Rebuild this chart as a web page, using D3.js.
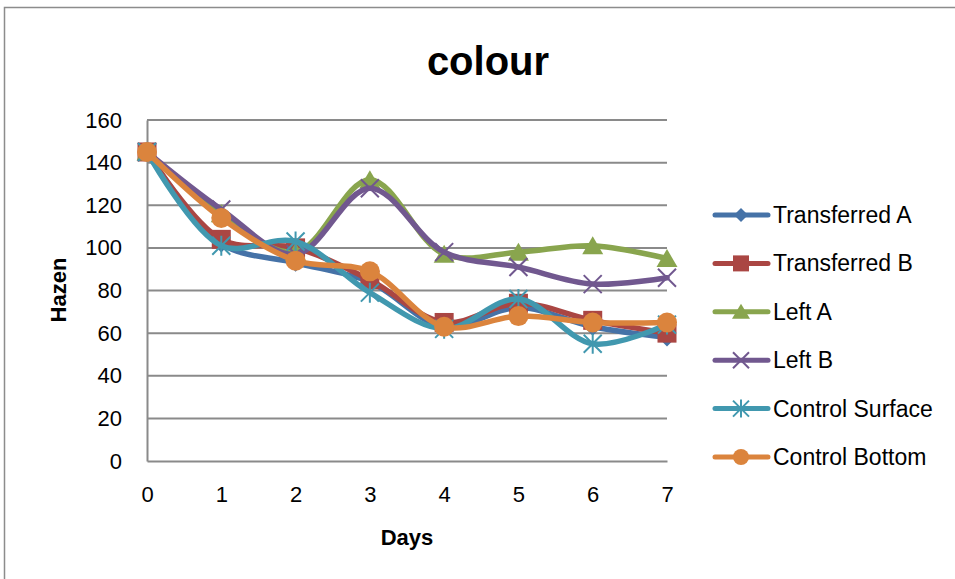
<!DOCTYPE html>
<html>
<head>
<meta charset="utf-8">
<script src="https://cdn.jsdelivr.net/npm/d3@7"></script>
<style>
  html, body { margin: 0; padding: 0; background: #fff; }
  svg { display: block; font-family: "Liberation Sans", Arial, sans-serif; }
</style>
</head>
<body>
<svg id="chart" width="955" height="579"></svg>
<script>
// Colour (Hazen) measured over seven days
const days = [0, 1, 2, 3, 4, 5, 6, 7];
const yTicks = [0, 20, 40, 60, 80, 100, 120, 140, 160];
const seriesNames = ["Transferred A", "Transferred B", "Left A", "Left B", "Control Surface", "Control Bottom"];
const transferredA = [145, 102, 93, 84, 63, 72, 63, 58];
const transferredB = [145, 104, 100, 85, 65, 74, 66, 60];
const leftA = [145, 116, 98, 132, 97, 98, 101, 95];
const leftB = [145, 118, 97, 128, 98, 91, 83, 86];
const controlSurface = [145, 101, 103, 79, 62, 76, 55, 64];
const controlBottom = [145, 114, 94, 89, 63, 68, 65, 65];

const seriesValues = [transferredA, transferredB, leftA, leftB, controlSurface, controlBottom];
const colors = ["#4572A7", "#AA4643", "#89A54E", "#71588F", "#4198AF", "#DB843D"];
const markerKinds = ["diamond", "square", "triangle", "cross", "star", "circle"];

const svg = d3.select("#chart");

// Outer chart frame
svg.append("rect")
  .attr("x", 4.5).attr("y", 7.5)
  .attr("width", 1200).attr("height", 1200)
  .attr("fill", "none").attr("stroke", "#8c8c8c").attr("stroke-width", 1.5);

const plot = { left: 147, right: 667, top: 120, bottom: 461 };

const x = d3.scaleLinear().domain([0, 7]).range([plot.left, plot.right]);
const y = d3.scaleLinear().domain([0, 160]).range([plot.bottom, plot.top]);

// Horizontal gridlines
svg.append("g")
  .selectAll("line")
  .data(yTicks.filter(t => t > 0))
  .join("line")
  .attr("x1", plot.left).attr("x2", plot.right)
  .attr("y1", d => y(d)).attr("y2", d => y(d))
  .attr("stroke", "#8a8a8a").attr("stroke-width", 2);

// Y axis
const yAxis = svg.append("g")
  .attr("transform", `translate(${plot.left},0)`)
  .call(d3.axisLeft(y).tickValues(yTicks).tickSize(0).tickPadding(25));
yAxis.select(".domain").attr("stroke", "#8a8a8a").attr("stroke-width", 2);
yAxis.selectAll("text").attr("font-size", 22).attr("fill", "#000")
  .attr("font-family", "Liberation Sans, Arial, sans-serif");

// X axis
const xAxis = svg.append("g")
  .attr("transform", `translate(0,${plot.bottom})`)
  .call(d3.axisBottom(x).tickValues(days).tickFormat(d3.format("d")).tickSize(0).tickPadding(25));
xAxis.select(".domain").attr("stroke", "#8a8a8a").attr("stroke-width", 2);
xAxis.selectAll("text").attr("font-size", 22).attr("fill", "#000")
  .attr("font-family", "Liberation Sans, Arial, sans-serif");

// Titles
svg.append("text")
  .attr("x", 488).attr("y", 75)
  .attr("text-anchor", "middle")
  .attr("font-size", 40).attr("font-weight", "bold")
  .text("colour");

svg.append("text")
  .attr("x", 407).attr("y", 545)
  .attr("text-anchor", "middle")
  .attr("font-size", 22).attr("font-weight", "bold")
  .text("Days");

svg.append("text")
  .attr("transform", "translate(66,290) rotate(-90)")
  .attr("text-anchor", "middle")
  .attr("font-size", 22).attr("font-weight", "bold")
  .text("Hazen");

// Marker drawing helper
function drawMarker(g, kind, color, s) {
  const h = s / 2;
  if (kind === "diamond") {
    g.append("path").attr("d", `M0,${-h}L${h},0L0,${h}L${-h},0Z`).attr("fill", color);
  } else if (kind === "square") {
    g.append("rect").attr("x", -h).attr("y", -h).attr("width", s).attr("height", s).attr("fill", color);
  } else if (kind === "triangle") {
    g.append("path").attr("d", `M0,${-h}L${h + 1},${h - 1}L${-h - 1},${h - 1}Z`).attr("fill", color);
  } else if (kind === "cross") {
    g.append("path").attr("d", `M${-h},${-h}L${h},${h}M${-h},${h}L${h},${-h}`)
      .attr("stroke", color).attr("stroke-width", 2).attr("fill", "none");
  } else if (kind === "star") {
    g.append("path").attr("d", `M${-h},${-h}L${h},${h}M${-h},${h}L${h},${-h}M0,${-h - 1}L0,${h + 1}`)
      .attr("stroke", color).attr("stroke-width", 2).attr("fill", "none");
  } else if (kind === "circle") {
    g.append("circle").attr("r", h).attr("fill", color);
  }
}

const line = d3.line()
  .x((d, i) => x(days[i]))
  .y(d => y(d))
  .curve(d3.curveCatmullRom.alpha(0.5));

const markerSize = [18, 19, 19, 18, 18, 20];

seriesValues.forEach((vals, si) => {
  const g = svg.append("g");
  g.append("path")
    .attr("d", line(vals))
    .attr("fill", "none")
    .attr("stroke", colors[si])
    .attr("stroke-width", 5.5)
    .attr("stroke-linejoin", "round")
    .attr("stroke-linecap", "round");
  vals.forEach((v, i) => {
    const mg = g.append("g").attr("transform", `translate(${x(days[i])},${y(v)})`);
    drawMarker(mg, markerKinds[si], colors[si], markerSize[si]);
  });
});

// Legend
const legend = svg.append("g");
const legendTop = 215, legendStep = 48.4;
seriesNames.forEach((name, si) => {
  const ly = legendTop + si * legendStep;
  const lg = legend.append("g");
  lg.append("line")
    .attr("x1", 715).attr("x2", 768)
    .attr("y1", ly).attr("y2", ly)
    .attr("stroke", colors[si]).attr("stroke-width", 5)
    .attr("stroke-linecap", "round");
  const mg = lg.append("g").attr("transform", `translate(741,${ly})`);
  drawMarker(mg, markerKinds[si], colors[si], markerKinds[si] === "diamond" ? 14 : 16);
  lg.append("text")
    .attr("x", 773).attr("y", ly)
    .attr("dy", "0.35em")
    .attr("font-size", 23)
    .attr("fill", "#000")
    .text(name);
});
</script>
</body>
</html>
